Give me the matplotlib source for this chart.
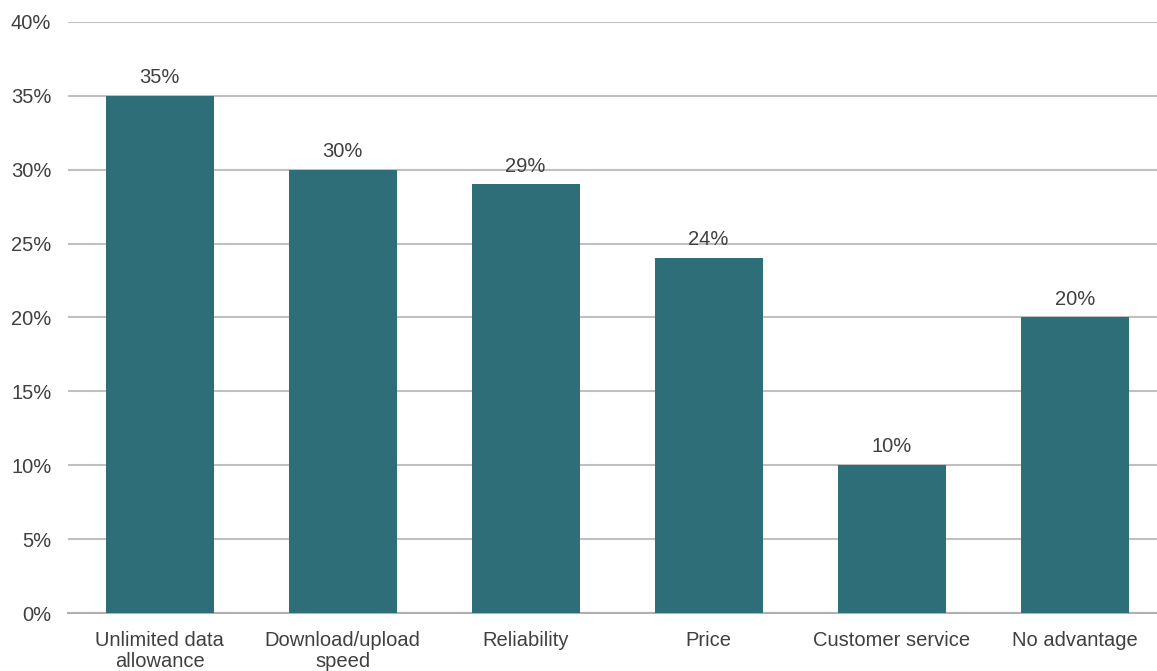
import matplotlib.pyplot as plt
import numpy as np

categories = ['Unlimited data\nallowance', 'Download/upload\nspeed', 'Reliability',
              'Price', 'Customer service', 'No advantage']
values = [35, 30, 29, 24, 10, 20]
yticks = [0, 5, 10, 15, 20, 25, 30, 35, 40]

plt.rcParams['font.family'] = ['Liberation Sans', 'DejaVu Sans']
text_color = '#404040'

fig = plt.figure(figsize=(11.57, 6.71), dpi=100)
ax = fig.add_axes([0.0588, 0.0864, 0.9412, 0.881])

x = np.arange(len(categories))
ax.bar(x, values, width=0.59, color='#2E6E78', zorder=3)

for xi, v in zip(x, values):
    ax.text(xi, v + 0.6, f'{v}%', ha='center', va='bottom', fontsize=14.5, color=text_color)

ax.set_ylim(0, 40)
ax.set_xlim(-0.5, 5.45)
ax.set_yticks(yticks)
ax.set_yticklabels([f'{t}%' for t in yticks])
ax.set_xticks(x)
ax.set_xticklabels(categories, linespacing=1.1)
ax.tick_params(axis='both', length=0, labelsize=14.5, colors=text_color)
ax.tick_params(axis='x', pad=13)
ax.tick_params(axis='y', pad=12)

ax.grid(axis='y', color='#C0C0C0', linewidth=1.5, zorder=0)
for s in ['top', 'right', 'left']:
    ax.spines[s].set_visible(False)
ax.spines['bottom'].set_color('#B0B0B0')
ax.spines['bottom'].set_linewidth(1.5)

fig.savefig('out.png', dpi=100)
